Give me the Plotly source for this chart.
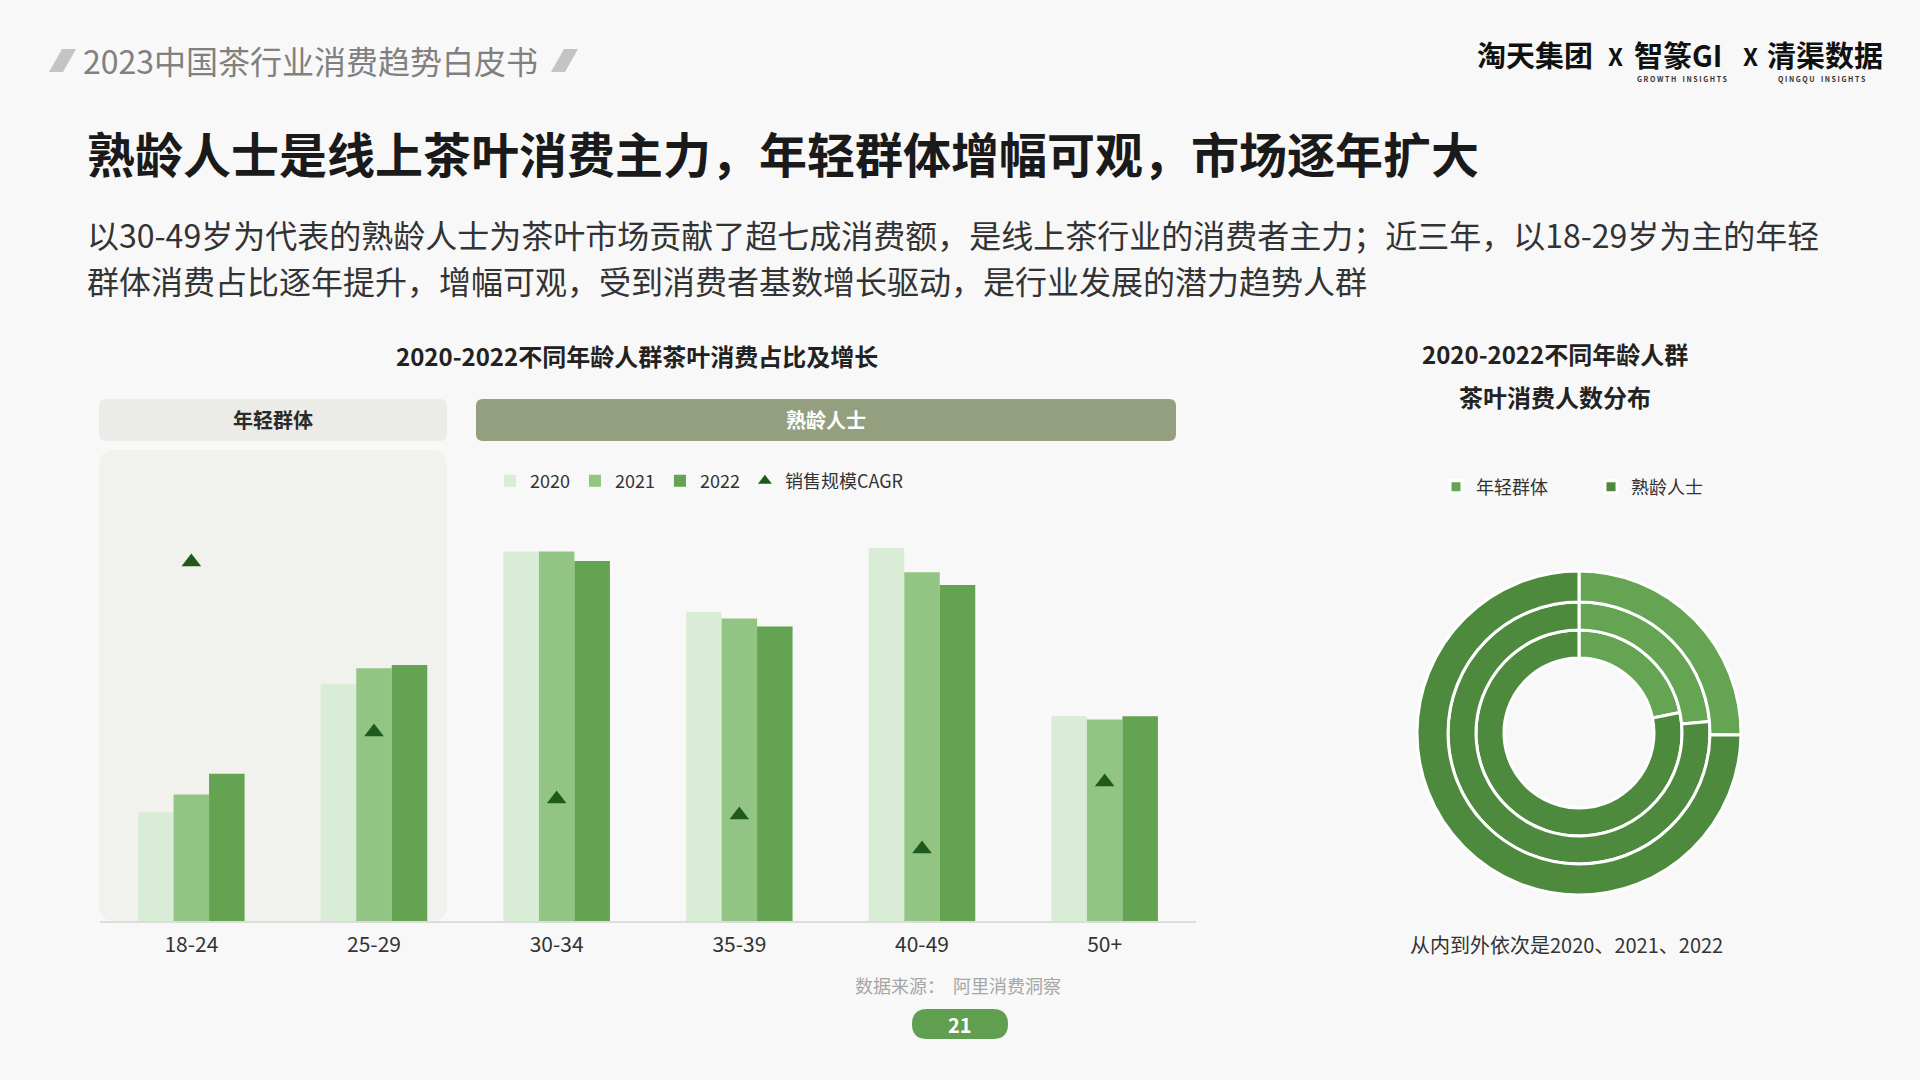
import plotly.graph_objects as go

W, H = 1920, 1080
FONT = "Noto Sans CJK SC"

# ---------------- data ----------------
age_groups = ["18-24", "25-29", "30-34", "35-39", "40-49", "50+"]
share_2020 = [6.8, 14.8, 23.1, 19.3, 23.3, 12.8]
share_2021 = [7.9, 15.8, 23.1, 18.9, 21.8, 12.6]
share_2022 = [9.2, 16.0, 22.5, 18.4, 21.0, 12.8]
sales_cagr = [35.9, 18.9, 12.2, 10.6, 7.2, 13.9]
bar_years = ["2020", "2021", "2022"]
cagr_name = "销售规模CAGR"

donut_labels = ["年轻群体", "熟龄人士"]
people_2020 = [21.8, 78.2]
people_2021 = [23.6, 76.4]
people_2022 = [25.2, 74.8]

# ---------------- helpers ----------------
def px(x):
    return x / W

def py(y):
    return 1 - y / H

def rrect(x0, y0, x1, y1, r):
    rx, ry = r / W, r / H
    X0, X1 = px(x0), px(x1)
    Y0, Y1 = py(y0), py(y1)  # Y0 top (bigger), Y1 bottom
    return (f"M{X0+rx},{Y0} L{X1-rx},{Y0} Q{X1},{Y0} {X1},{Y0-ry} "
            f"L{X1},{Y1+ry} Q{X1},{Y1} {X1-rx},{Y1} L{X0+rx},{Y1} "
            f"Q{X0},{Y1} {X0},{Y1+ry} L{X0},{Y0-ry} Q{X0},{Y0} {X0+rx},{Y0} Z")

def para(xoff):
    pts = [(49 + xoff, 72), (63 + xoff, 72), (76 + xoff, 49), (62 + xoff, 49)]
    return "M" + " L".join(f"{px(a)},{py(b)}" for a, b in pts) + " Z"

bar_colors = ["#d9ecd5", "#92c583", "#63a352"]
tri_color = "#1e5a1c"
young_c, mature_c = "#64a453", "#4d8a3d"

fig = go.Figure()

shares = [share_2020, share_2021, share_2022]
for name, vals, col in zip(bar_years, shares, bar_colors):
    fig.add_trace(go.Bar(
        x=age_groups, y=vals, name=name, marker=dict(color=col, line=dict(width=0)),
        legend="legend", hoverinfo="skip"))

fig.add_trace(go.Scatter(
    x=age_groups, y=sales_cagr, name=cagr_name, mode="markers", yaxis="y2",
    marker=dict(symbol="triangle-up", size=17, color=tri_color),
    legend="legend", hoverinfo="skip"))

# donuts: inner 2020, middle 2021, outer 2022
cx, cy = 1579, 733
rings = [(people_2020, 103, 75), (people_2021, 131, 103), (people_2022, 162, 131)]
for vals, r_out, r_in in rings:
    fig.add_trace(go.Pie(
        labels=donut_labels, values=vals, sort=False, direction="clockwise",
        rotation=0, hole=r_in / r_out, textinfo="none", hoverinfo="skip",
        marker=dict(colors=[young_c, mature_c], line=dict(color="white", width=3)),
        domain=dict(x=[px(cx - r_out), px(cx + r_out)], y=[py(cy + r_out), py(cy - r_out)]),
        legend="legend2", showlegend=True))

def pshape(path, color):
    return dict(type="path", path=path, xref="paper", yref="paper",
                fillcolor=color, line=dict(width=0), layer="below")

shapes = [
    pshape(rrect(99, 450, 447, 921, 16), "#f1f1ee"),
    pshape(rrect(99, 399, 447, 441, 7), "#ebebe7"),
    pshape(rrect(476, 399, 1176, 441, 7), "#939f7e"),
    pshape(rrect(912, 1009, 1008, 1039, 15), "#5f9f4f"),
    pshape(para(0), "#c4c4c4"),
    pshape(para(502), "#c4c4c4"),
]

def ann(text, x, y, size, color="#333333", xanchor="center", bold=False, yanchor="middle"):
    return dict(text=f"<b>{text}</b>" if bold else text, x=px(x), y=py(y),
                xref="paper", yref="paper", xanchor=xanchor, yanchor=yanchor,
                showarrow=False, font=dict(family=FONT, size=size, color=color),
                borderpad=0)

annotations = [
    ann("2023中国茶行业消费趋势白皮书", 82, 60, 32, "#808080", "left"),
    ann("淘天集团", 1476, 54, 29, "#111111", "left", True),
    ann("X", 1615, 55, 24, "#111111", "center", True),
    ann("智篆GI", 1633, 54, 29, "#111111", "left", True),
    ann("G R O W T H    I N S I G H T S", 1682, 79, 7, "#333333", "center", True),
    ann("X", 1750, 55, 24, "#111111", "center", True),
    ann("清渠数据", 1766, 54, 29, "#111111", "left", True),
    ann("Q I N G Q U    I N S I G H T S", 1822, 79, 7, "#333333", "center", True),
    ann("熟龄人士是线上茶叶消费主力，年轻群体增幅可观，市场逐年扩大", 86, 152, 48, "#1a1a1a", "left", True),
    ann("以30-49岁为代表的熟龄人士为茶叶市场贡献了超七成消费额，是线上茶行业的消费者主力；近三年，以18-29岁为主的年轻",
        86, 234, 32, "#333333", "left"),
    ann("群体消费占比逐年提升，增幅可观，受到消费者基数增长驱动，是行业发展的潜力趋势人群",
        86, 280, 32, "#333333", "left"),
    ann("2020-2022不同年龄人群茶叶消费占比及增长", 637, 355, 24, "#222222", "center", True),
    ann("年轻群体", 273, 420, 20, "#2a2a2a", "center", True),
    ann("熟龄人士", 826, 420, 20, "#ffffff", "center", True),
    ann("2020-2022不同年龄人群", 1555, 354, 24, "#222222", "center", True),
    ann("茶叶消费人数分布", 1555, 396, 24, "#222222", "center", True),
    ann("从内到外依次是2020、2021、2022", 1566, 944, 20, "#333333"),
    ann("数据来源：  阿里消费洞察", 958, 985, 18, "#a6a6a6"),
    ann("21", 960, 1024, 20, "#ffffff", "center", True),
]

fig.update_layout(
    width=W, height=H, autosize=False,
    margin=dict(l=0, r=0, t=0, b=0),
    paper_bgcolor="#f8f8f8", plot_bgcolor="rgba(0,0,0,0)",
    font=dict(family=FONT, color="#333333"),
    barmode="group", bargap=0.417, bargroupgap=0,
    xaxis=dict(domain=[px(100), px(1196)], showline=True, linecolor="#dcdcdc",
               linewidth=2, showgrid=False, zeroline=False, ticks="",
               tickfont=dict(family=FONT, size=21, color="#333333"),
               ticklabelstandoff=4, fixedrange=True),
    yaxis=dict(domain=[py(921), py(450)], range=[0, 471 / 16], visible=False,
               showgrid=False, zeroline=False),
    yaxis2=dict(domain=[py(921), py(450)], range=[0, 47.1], overlaying="y",
                visible=False, showgrid=False, zeroline=False),
    legend=dict(orientation="h", x=px(490), y=py(481), xanchor="left", yanchor="middle",
                font=dict(family=FONT, size=18, color="#333333"),
                bgcolor="rgba(0,0,0,0)", itemsizing="constant", traceorder="normal"),
    legend2=dict(orientation="h", x=px(1436), y=py(487), xanchor="left", yanchor="middle",
                 font=dict(family=FONT, size=18, color="#333333"),
                 bgcolor="rgba(0,0,0,0)", entrywidth=110),
    shapes=shapes,
    annotations=annotations,
    showlegend=True,
)

fig.write_html("out.html")
